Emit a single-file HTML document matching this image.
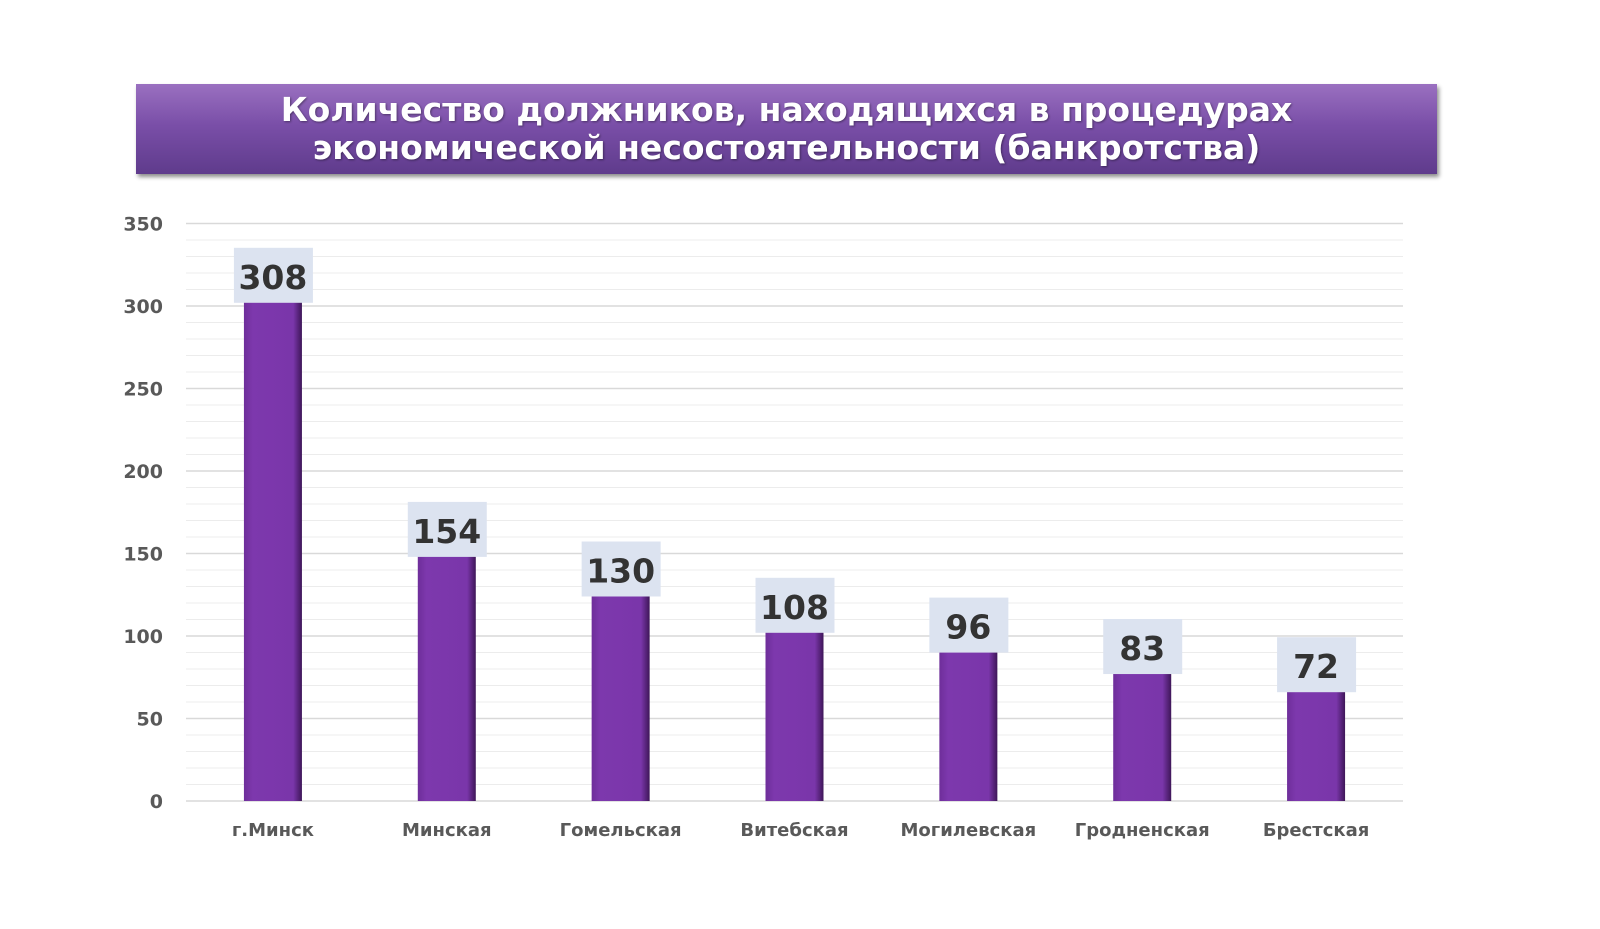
<!DOCTYPE html>
<html><head><meta charset="utf-8"><style>
body{margin:0;background:#fff;width:1600px;height:929px;overflow:hidden;font-family:"Liberation Sans",sans-serif}
#title{position:absolute;left:136px;top:84px;width:1301px;height:90px;background:linear-gradient(#9a70c0,#7a4fa8 45%,#5f3b8c);box-shadow:2px 3px 4px rgba(0,0,0,.45);color:#fff;font-family:"DejaVu Sans","Liberation Sans",sans-serif;font-weight:bold;font-size:33px;line-height:38px;text-align:center;padding-top:7px;box-sizing:border-box;text-shadow:1px 1px 2px rgba(0,0,0,.4)}
</style></head><body>
<div id="title">Количество должников, находящихся в процедурах<br>экономической несостоятельности (банкротства)</div>
<svg id="c" width="1600" height="929" style="position:absolute;left:0;top:0">
<defs><linearGradient id="bg" x1="0" x2="1"><stop offset="0" stop-color="#6e2e9a"/><stop offset="0.15" stop-color="#7d38ad"/><stop offset="0.85" stop-color="#7a36aa"/><stop offset="1" stop-color="#3e1658"/></linearGradient></defs>
</svg>
<script>
const categories=["г.Минск","Минская","Гомельская","Витебская","Могилевская","Гродненская","Брестская"];
const values=[308,154,130,108,96,83,72];
const yTicks=[0,50,100,150,200,250,300,350];
const svg=document.getElementById('c');const NS="http://www.w3.org/2000/svg";
const x0=186,x1=1403,y0=801,y1=223.5,ymax=350;
const y=v=>y0-(v/ymax)*(y0-y1);
const band=(x1-x0)/categories.length;
const xc=i=>x0+band*(i+0.5);
function mk(t,a,p){const e=document.createElementNS(NS,t);for(const k in a)e.setAttribute(k,a[k]);(p||svg).appendChild(e);return e;}
for(let v=0;v<=ymax;v+=10){const l=mk('line',{x1:x0,x2:x1,y1:y(v),y2:y(v),stroke:v%50?'#ececec':'#d9d9d9','stroke-width':v%50?1:1.5});

}
yTicks.forEach(v=>{const t=mk('text',{x:163,y:y(v)+7,'text-anchor':'end','font-size':19,'font-weight':'bold','font-family':'DejaVu Sans, sans-serif',fill:'#595959'});t.textContent=v;

});
categories.forEach((c,i)=>{
const bw=58,bx=xc(i)-bw/2;
const r=mk('rect',{x:bx,y:y(values[i]),width:bw,height:y0-y(values[i]),fill:'url(#bg)'});


const bb=y(values[i])+10;
const b=mk('rect',{x:xc(i)-39,y:bb-55,width:79,height:55,fill:'#dce3f0'});


const t=mk('text',{x:xc(i),y:bb-14,'text-anchor':'middle','font-size':33,'font-weight':'bold','font-family':'DejaVu Sans, sans-serif',fill:'#333'});t.textContent=values[i];


const xl=mk('text',{x:xc(i),y:836,'text-anchor':'middle','font-size':18,'font-weight':'bold','font-family':'DejaVu Sans, sans-serif',fill:'#595959'});xl.textContent=c;


});
</script>
</body></html>
